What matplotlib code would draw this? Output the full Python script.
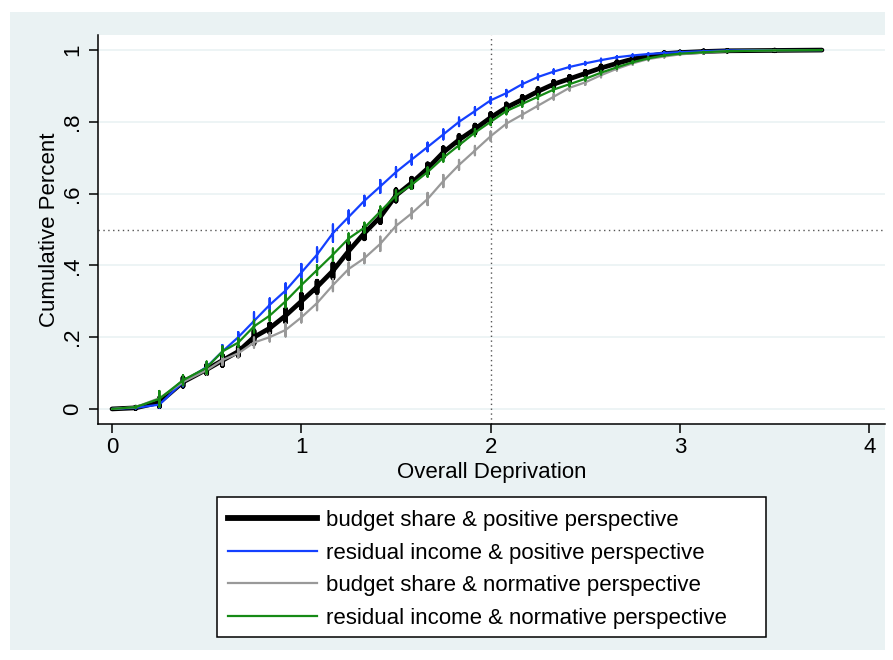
import matplotlib
matplotlib.use("Agg")
import matplotlib.pyplot as plt
from matplotlib.patches import Rectangle
from matplotlib.lines import Line2D
import numpy as np

plt.rcParams['font.family'] = ['Liberation Sans', 'DejaVu Sans']

# ---- data ----
x_vals = [0, 0.125, 0.25, 0.375, 0.5, 0.583, 0.667, 0.75, 0.833, 0.917, 1.0, 1.083, 1.167,
          1.25, 1.333, 1.417, 1.5, 1.583, 1.667, 1.75, 1.833, 1.917, 2.0, 2.083, 2.167, 2.25,
          2.333, 2.417, 2.5, 2.583, 2.667, 2.75, 2.833, 2.917, 3.0, 3.125, 3.25, 3.5, 3.75]

black_mid = [0, 0.003, 0.018, 0.075, 0.11, 0.135, 0.16, 0.20, 0.225, 0.26, 0.30, 0.34, 0.385,
             0.44, 0.49, 0.535, 0.595, 0.63, 0.67, 0.715, 0.75, 0.78, 0.812, 0.84, 0.862, 0.885,
             0.905, 0.92, 0.935, 0.95, 0.963, 0.975, 0.983, 0.99, 0.993, 0.996, 0.998, 0.999, 1.0]
black_spread = [0, 0.002, 0.012, 0.012, 0.012, 0.014, 0.012, 0.018, 0.012, 0.018, 0.02, 0.016, 0.02,
                0.022, 0.016, 0.016, 0.016, 0.013, 0.013, 0.013, 0.012, 0.011, 0.011, 0.01, 0.009, 0.008,
                0.008, 0.007, 0.006, 0.006, 0.005, 0.004, 0.003, 0.003, 0.002, 0.002, 0.001, 0.001, 0]

blue_mid = [0, 0.003, 0.012, 0.075, 0.117, 0.16, 0.20, 0.245, 0.29, 0.33, 0.38, 0.43, 0.49,
            0.535, 0.58, 0.62, 0.66, 0.695, 0.73, 0.765, 0.80, 0.83, 0.86, 0.88, 0.905, 0.925,
            0.94, 0.953, 0.963, 0.972, 0.98, 0.985, 0.989, 0.992, 0.994, 0.997, 0.999, 1.0, 1.0]
blue_spread = [0, 0.002, 0.008, 0.012, 0.014, 0.018, 0.014, 0.024, 0.018, 0.02, 0.024, 0.02, 0.024,
               0.018, 0.014, 0.018, 0.014, 0.014, 0.012, 0.014, 0.012, 0.011, 0.009, 0.009, 0.008, 0.007,
               0.006, 0.005, 0.004, 0.004, 0.003, 0.003, 0.002, 0.002, 0.002, 0.001, 0.001, 0, 0]

gray_mid = [0, 0.005, 0.03, 0.075, 0.108, 0.136, 0.155, 0.185, 0.20, 0.22, 0.255, 0.295, 0.345,
            0.39, 0.42, 0.46, 0.51, 0.545, 0.585, 0.635, 0.68, 0.72, 0.76, 0.795, 0.82, 0.845,
            0.87, 0.895, 0.91, 0.93, 0.948, 0.963, 0.975, 0.982, 0.988, 0.993, 0.997, 0.999, 1.0]
gray_spread = [0, 0.002, 0.006, 0.009, 0.012, 0.014, 0.012, 0.014, 0.012, 0.018, 0.014, 0.02, 0.017,
               0.017, 0.014, 0.02, 0.017, 0.014, 0.017, 0.017, 0.014, 0.013, 0.013, 0.011, 0.01, 0.009,
               0.008, 0.008, 0.007, 0.006, 0.005, 0.004, 0.004, 0.003, 0.002, 0.002, 0.001, 0.001, 0]

green_mid = [0, 0.005, 0.028, 0.08, 0.115, 0.16, 0.185, 0.23, 0.26, 0.30, 0.345, 0.387, 0.43,
             0.475, 0.505, 0.55, 0.595, 0.625, 0.66, 0.70, 0.735, 0.77, 0.80, 0.83, 0.85, 0.87,
             0.89, 0.905, 0.92, 0.937, 0.952, 0.966, 0.977, 0.985, 0.99, 0.994, 0.997, 0.999, 1.0]
green_spread = [0, 0.002, 0.022, 0.014, 0.017, 0.014, 0.012, 0.017, 0.014, 0.017, 0.017, 0.014, 0.017,
                0.014, 0.014, 0.014, 0.014, 0.012, 0.013, 0.011, 0.011, 0.01, 0.009, 0.009, 0.008, 0.007,
                0.006, 0.006, 0.005, 0.005, 0.004, 0.003, 0.003, 0.002, 0.002, 0.001, 0.001, 0, 0]

labels = ["budget share & positive perspective",
          "residual income & positive perspective",
          "budget share & normative perspective",
          "residual income & normative perspective"]
colors = ["#000000", "#1440FF", "#999999", "#158A15"]
widths = [3.4, 1.6, 1.6, 1.6]
legend_widths = [4.2, 1.6, 1.6, 1.6]

x_ticks = [0, 1, 2, 3, 4]
y_ticks = [0, 0.2, 0.4, 0.6, 0.8, 1.0]
y_ticklabels = ["0", ".2", ".4", ".6", ".8", "1"]


def spiky_path(xs, mids, spreads):
    px, py = [], []
    for x, m, s in zip(xs, mids, spreads):
        px += [x, x, x, x]
        py += [m, m + s, m - s, m]
    return px, py


FS = 16
W, H = 893, 660
fig = plt.figure(figsize=(W / 100, H / 100), dpi=100)
fig.patch.set_facecolor("white")
bg = Rectangle((10 / W, 1 - 650 / H), (885 - 10) / W, (650 - 12) / H,
               transform=fig.transFigure, facecolor="#EAF2F3", edgecolor="none", zorder=-10)
fig.patches.append(bg)
legbox = Rectangle((217 / W, 1 - 637 / H), (766 - 217) / W, (637 - 497) / H,
                   transform=fig.transFigure, facecolor="white", edgecolor="black",
                   linewidth=1.1, zorder=-5)
fig.patches.append(legbox)

ax = fig.add_axes([98 / W, 1 - 424 / H, (885 - 98) / W, (424 - 35) / H])
ax.set_zorder(1)
ax.set_facecolor("white")
ax.set_xlim(-0.074, 4.083)
ax.set_ylim(-0.042, 1.042)

for yt in y_ticks:
    ax.axhline(yt, color="#EAF2F3", lw=1.2, zorder=1)

ax.axvline(2, color="#555555", lw=1.0, ls=(0, (1, 2.5)), zorder=2)
ax.axhline(0.5, color="#555555", lw=1.0, ls=(0, (1, 2.5)), zorder=2)

series = [(black_mid, black_spread), (blue_mid, blue_spread),
          (gray_mid, gray_spread), (green_mid, green_spread)]
for (mids, spr), c, w in zip(series, colors, widths):
    px, py = spiky_path(x_vals, mids, spr)
    ax.plot(px, py, color=c, lw=w, solid_joinstyle="round",
            solid_capstyle="round", zorder=3)

for side in ["top", "right"]:
    ax.spines[side].set_visible(False)
for side in ["left", "bottom"]:
    ax.spines[side].set_color("black")
    ax.spines[side].set_linewidth(1.1)

ax.set_xticks(x_ticks)
ax.set_xticklabels([str(t) for t in x_ticks])
ax.set_yticks(y_ticks)
ax.set_yticklabels(y_ticklabels, rotation=90, va="center")
ax.tick_params(axis="both", length=6.5, width=1.1, color="black", labelsize=FS,
               labelcolor="black")
ax.tick_params(axis="y", pad=4)
ax.tick_params(axis="x", pad=3)

ax.set_xlabel("Overall Deprivation", fontsize=FS, labelpad=3)
ax.set_ylabel("Cumulative Percent", fontsize=FS, labelpad=2)

handles = [Line2D([], [], color=c, lw=w) for c, w in zip(colors, legend_widths)]
leg = fig.legend(handles=handles, labels=labels, loc="upper left",
                 bbox_to_anchor=(228 / W, 1 - 510 / H), borderaxespad=0,
                 fontsize=FS, frameon=False, handlelength=4.0, handletextpad=0.42,
                 labelspacing=0.52, borderpad=0)

fig.savefig("out.png", dpi=100, facecolor=fig.get_facecolor())
